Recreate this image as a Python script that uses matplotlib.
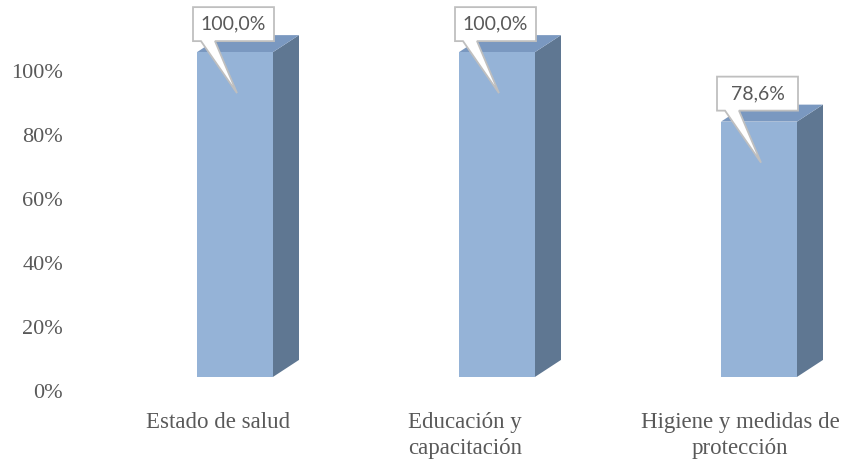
import matplotlib
matplotlib.use("Agg")
import matplotlib.pyplot as plt
from matplotlib.patches import Polygon

# data
categories = ["Estado de salud", "Educación y\ncapacitación", "Higiene y medidas de\nprotección"]
values = [100.0, 100.0, 78.6]
value_labels = ["100,0%", "100,0%", "78,6%"]
ytick_values = [0, 20, 40, 60, 80, 100]
ytick_labels = ["0%", "20%", "40%", "60%", "80%", "100%"]

# look of the pseudo 3D bars (px at 100 dpi, one category = 262 px, 1% = 3.2 px)
PX_X = 262.0
PX_Y = 3.2
front_col = "#95B3D7"
top_col = "#7A98C0"
side_col = "#5F7792"
grey = "#595959"
serif = ["Liberation Serif", "DejaVu Serif"]
bar_w = 76 / PX_X
dx = 26 / PX_X
dy = 17 / PX_Y
base = 4.4
persp = 1.015

fig = plt.figure(figsize=(8.48, 4.62), dpi=100)
ax = fig.add_axes([70 / 848, 0, 778 / 848, 1])
ax.set_xlim((70 - 235) / PX_X, (848 - 235) / PX_X)
ax.set_ylim((391 - 462) / PX_Y, 391 / PX_Y)
for s in ax.spines.values():
    s.set_visible(False)
ax.set_xticks([])
ax.set_yticks(ytick_values)
ax.set_yticklabels(ytick_labels, family=serif, fontsize=16, color=grey)
ax.tick_params(axis="y", length=0, pad=5)

label_shift = [-17, -32, -19]

for i, v in enumerate(values):
    x0 = i - bar_w / 2
    x1 = i + bar_w / 2
    y0 = base
    y1 = base + v * persp
    # side face
    ax.add_patch(Polygon([(x1, y0), (x1 + dx, y0 + dy), (x1 + dx, y1 + dy), (x1, y1)],
                         closed=True, facecolor=side_col, edgecolor="none"))
    # top face
    ax.add_patch(Polygon([(x0, y1), (x1, y1), (x1 + dx, y1 + dy), (x0 + dx, y1 + dy)],
                         closed=True, facecolor=top_col, edgecolor="none"))
    # front face
    ax.add_patch(Polygon([(x0, y0), (x1, y0), (x1, y1), (x0, y1)],
                         closed=True, facecolor=front_col, edgecolor="none"))

    # callout with a pointer
    bl = x0 - 4 / PX_X
    br = x1 + 1 / PX_X
    bb = y1 + 11 / PX_Y
    bt = bb + 34 / PX_Y
    t0 = bl + 8 / PX_X
    t1 = bl + 22 / PX_X
    tip = (i + 2 / PX_X, y1 - 41 / PX_Y)
    ax.add_patch(Polygon([(bl, bb), (t0, bb), tip, (t1, bb), (br, bb), (br, bt), (bl, bt)],
                         closed=True, facecolor="white", edgecolor="#BFBFBF",
                         linewidth=1.3, zorder=5))
    ax.text((bl + br) / 2, (bb + bt) / 2, value_labels[i], ha="center", va="center",
            family="Lato", fontsize=14, color=grey, zorder=6)

    ax.text(i + label_shift[i] / PX_X, -6.5, categories[i], ha="center", va="top",
            family=serif, fontsize=16.5, color=grey, linespacing=1.3)

fig.savefig("out.png", dpi=100)
